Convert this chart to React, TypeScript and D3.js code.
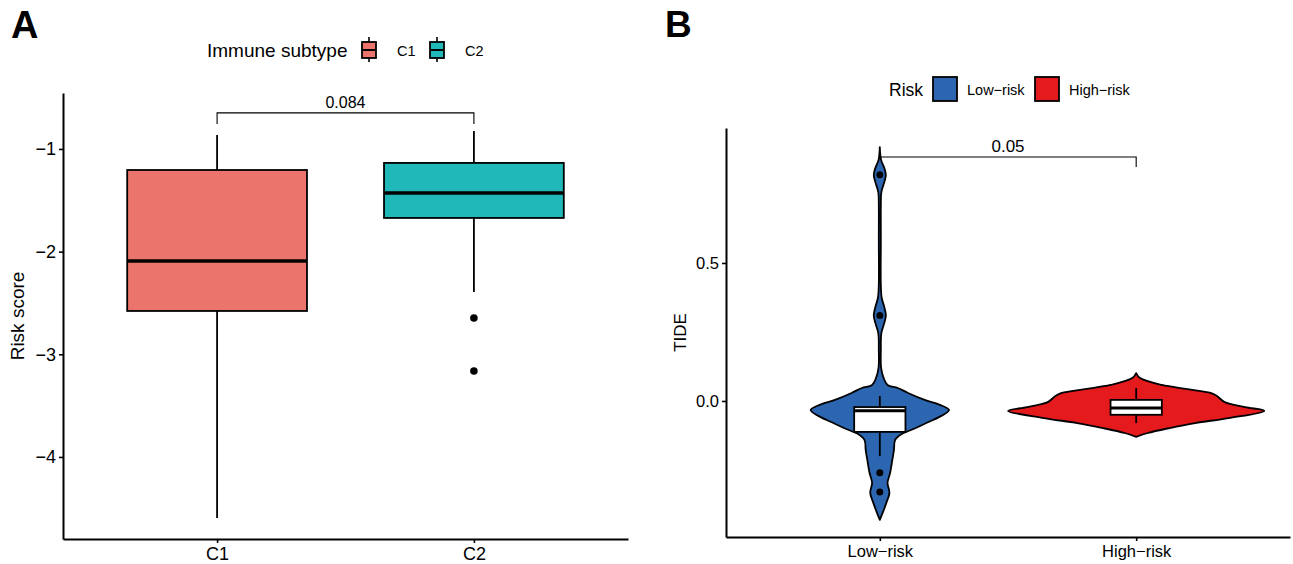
import { useEffect, useRef } from 'react';
import * as d3 from 'd3';

const WIDTH = 1293;
const HEIGHT = 564;
const FONT_FAMILY = '"Liberation Sans", Arial, Helvetica, sans-serif';

// Panel A: risk score by immune subtype (boxplot stats)
const SUBTYPES = ['C1', 'C2'];
const SUBTYPE_COLORS = ['#EB756C', '#20B8B8'];
const BOX_LOW = [-4.594, -2.393];
const BOX_Q1 = [-2.578, -1.672];
const BOX_MEDIAN = [-2.091, -1.429];
const BOX_Q3 = [-1.205, -1.136];
const BOX_HIGH = [-0.864, -0.825];
const C2_OUTLIERS = [-2.646, -3.162];
const RISK_TICKS = [-4, -3, -2, -1];
const RISK_DOMAIN = [-4.799, -0.455];
const P_A = '0.084';
const P_A_LEVEL = -0.649;

// Panel B: TIDE by risk group (violin density profiles, relative scale)
const RISK_GROUPS = ['Low-risk', 'High-risk'];
const RISK_COLORS = ['#2C66B0', '#E41A1C'];
const LOW_DENS_Y = [
  0.92, 0.873, 0.844, 0.819, 0.793, 0.757, 0.71, 0.583, 0.42, 0.373, 0.34, 0.31, 0.283,
  0.246, 0.185, 0.12, 0.083, 0.058, 0.047, 0.029, 0.004, -0.014, -0.033, -0.054, -0.076,
  -0.098, -0.12, -0.141, -0.178, -0.221, -0.261, -0.297, -0.333, -0.37, -0.402, -0.431,
];
const LOW_DENS = [
  0, 0.01, 0.035, 0.047, 0.035, 0.012, 0.008, 0.008, 0.008, 0.015, 0.035, 0.047, 0.035,
  0.012, 0.008, 0.01, 0.03, 0.06, 0.14, 0.22, 0.35, 0.47, 0.54, 0.48, 0.38,
  0.28, 0.17, 0.12, 0.11, 0.095, 0.08, 0.06, 0.075, 0.05, 0.025, 0,
];
const HIGH_DENS_Y = [
  0.101, 0.083, 0.058, 0.043, 0.029, 0.018, -0.004, -0.022, -0.036, -0.062, -0.08, -0.098,
  -0.116, -0.13,
];
const HIGH_DENS = [0, 0.03, 0.2, 0.4, 0.58, 0.63, 0.69, 0.85, 1, 0.72, 0.46, 0.26, 0.09, 0];
// [lower whisker, q1, median, q3, upper whisker]
const TIDE_LOW_BOX = [-0.2, -0.112, -0.035, -0.022, 0.018];
const TIDE_HIGH_BOX = [-0.08, -0.05, -0.025, 0.004, 0.047];
const LOW_OUTLIERS = [0.82, 0.31, -0.26, -0.33];
const TIDE_TICKS = [0, 0.5];
const TIDE_DOMAIN = [-0.4928, 0.989];
const P_B = '0.05';
const P_B_LEVEL = 0.884;

const LINE = 1.8;

export default function App() {
  const svgRef = useRef<SVGSVGElement>(null);

  useEffect(() => {
    const svg = d3.select(svgRef.current);
    svg.selectAll('*').remove();
    svg.style('font-family', FONT_FAMILY);

    // ---------------------------------------------------------------- Panel A
    const xA = d3.scaleLinear().domain([0.4, 2.6]).range([63, 628]);
    const yA = d3.scaleLinear().domain(RISK_DOMAIN).range([539, 93]);
    const gA = svg.append('g');

    SUBTYPES.forEach((name, i) => {
      const cx = xA(i + 1);
      const half = xA(1.35) - xA(1);
      // whiskers
      gA.append('line')
        .attr('x1', cx).attr('x2', cx)
        .attr('y1', yA(BOX_HIGH[i])).attr('y2', yA(BOX_Q3[i]))
        .attr('stroke', '#000').attr('stroke-width', LINE);
      gA.append('line')
        .attr('x1', cx).attr('x2', cx)
        .attr('y1', yA(BOX_Q1[i])).attr('y2', yA(BOX_LOW[i]))
        .attr('stroke', '#000').attr('stroke-width', LINE);
      gA.append('rect')
        .attr('x', cx - half).attr('width', half * 2)
        .attr('y', yA(BOX_Q3[i])).attr('height', yA(BOX_Q1[i]) - yA(BOX_Q3[i]))
        .attr('fill', SUBTYPE_COLORS[i]).attr('stroke', '#000').attr('stroke-width', LINE);
      gA.append('line')
        .attr('x1', cx - half).attr('x2', cx + half)
        .attr('y1', yA(BOX_MEDIAN[i])).attr('y2', yA(BOX_MEDIAN[i]))
        .attr('stroke', '#000').attr('stroke-width', 3.6);
    });

    gA.selectAll('circle.out')
      .data(C2_OUTLIERS)
      .join('circle')
      .attr('cx', xA(2)).attr('cy', (d) => yA(d)).attr('r', 3.8).attr('fill', '#000');

    // axes
    const axA = gA.append('g').attr('transform', `translate(63,0)`)
      .call(d3.axisLeft(yA).tickValues(RISK_TICKS).tickFormat(d3.format('d')).tickSize(4).tickSizeOuter(0));
    const axAx = gA.append('g').attr('transform', `translate(0,539)`)
      .call(d3.axisBottom(xA).tickValues([1, 2]).tickFormat((d) => SUBTYPES[+d - 1]).tickSize(4).tickSizeOuter(0));
    [axA, axAx].forEach((ax) => {
      ax.select('.domain').attr('stroke-width', 2);
      ax.selectAll('.tick line').attr('stroke-width', 1.6);
      ax.selectAll('text').style('font-size', '18px').style('font-family', FONT_FAMILY).attr('fill', '#000');
    });
    axA.selectAll('text').attr('x', -7);
    axAx.selectAll('text').attr('y', 8);

    gA.append('text')
      .attr('transform', `translate(24,${yA((RISK_DOMAIN[0] + RISK_DOMAIN[1]) / 2)}) rotate(-90)`)
      .attr('text-anchor', 'middle')
      .style('font-size', '19px')
      .text('Risk score');

    // p-value bracket
    const tipA = 11;
    gA.append('path')
      .attr('d', `M${xA(1)},${yA(P_A_LEVEL) + tipA}V${yA(P_A_LEVEL)}H${xA(2)}V${yA(P_A_LEVEL) + tipA}`)
      .attr('fill', 'none').attr('stroke', '#000').attr('stroke-width', 1.1);
    gA.append('text')
      .attr('x', (xA(1) + xA(2)) / 2).attr('y', yA(P_A_LEVEL) - 5)
      .attr('text-anchor', 'middle').style('font-size', '16px').text(P_A);

    // legend A
    const legA = gA.append('g').attr('transform', 'translate(207,57)');
    legA.append('text').style('font-size', '19px').text('Immune subtype');
    const keyXA = [162, 230];
    SUBTYPES.forEach((name, i) => {
      const k = legA.append('g').attr('transform', `translate(${keyXA[i]},-7)`);
      k.append('line').attr('x1', 0).attr('x2', 0).attr('y1', -13).attr('y2', 12)
        .attr('stroke', '#000').attr('stroke-width', 1.6);
      k.append('rect').attr('x', -7).attr('y', -8).attr('width', 14).attr('height', 16)
        .attr('fill', SUBTYPE_COLORS[i]).attr('stroke', '#000').attr('stroke-width', 1.8);
      k.append('line').attr('x1', -7).attr('x2', 7).attr('y1', 0).attr('y2', 0)
        .attr('stroke', '#000').attr('stroke-width', 2);
      legA.append('text').attr('x', keyXA[i] + 28).attr('y', -1)
        .style('font-size', '14.5px').text(name);
    });

    svg.append('text').attr('x', 11).attr('y', 38)
      .style('font-size', '38px').style('font-weight', 'bold').text('A');

    // ---------------------------------------------------------------- Panel B
    const xB = d3.scaleLinear().domain([0.4, 2.6]).range([726, 1290]);
    const yB = d3.scaleLinear().domain(TIDE_DOMAIN).range([537, 128]);
    const wB = d3.scaleLinear().domain([0, 1]).range([0, xB(1.5) - xB(1)]);
    const gB = svg.append('g');

    // bracket drawn first so violin covers it
    const tipB = 10;
    gB.append('path')
      .attr('d', `M${xB(1)},${yB(P_B_LEVEL) + tipB}V${yB(P_B_LEVEL)}H${xB(2)}V${yB(P_B_LEVEL) + tipB}`)
      .attr('fill', 'none').attr('stroke', '#000').attr('stroke-width', 1.1);
    gB.append('text')
      .attr('x', (xB(1) + xB(2)) / 2).attr('y', yB(P_B_LEVEL) - 5)
      .attr('text-anchor', 'middle').style('font-size', '17px').text(P_B);

    const profiles = [
      LOW_DENS_Y.map((v, j) => ({ v, d: LOW_DENS[j] })),
      HIGH_DENS_Y.map((v, j) => ({ v, d: HIGH_DENS[j] })),
    ];
    const boxes = [TIDE_LOW_BOX, TIDE_HIGH_BOX];

    RISK_GROUPS.forEach((name, i) => {
      const cx = xB(i + 1);
      const area = d3.area<{ v: number; d: number }>()
        .y((p) => yB(p.v))
        .x0((p) => cx - wB(p.d))
        .x1((p) => cx + wB(p.d))
        .curve(d3.curveCatmullRom.alpha(0.5));
      gB.append('path')
        .attr('d', area(profiles[i]))
        .attr('fill', RISK_COLORS[i]).attr('stroke', '#000').attr('stroke-width', LINE)
        .attr('stroke-linejoin', 'round');

      const b = boxes[i];
      const half = xB(1.1) - xB(1);
      gB.append('line').attr('x1', cx).attr('x2', cx)
        .attr('y1', yB(b[4])).attr('y2', yB(b[0]))
        .attr('stroke', '#000').attr('stroke-width', LINE);
      gB.append('rect')
        .attr('x', cx - half).attr('width', half * 2)
        .attr('y', yB(b[3])).attr('height', yB(b[1]) - yB(b[3]))
        .attr('fill', '#fff').attr('stroke', '#000').attr('stroke-width', LINE);
      gB.append('line')
        .attr('x1', cx - half).attr('x2', cx + half)
        .attr('y1', yB(b[2])).attr('y2', yB(b[2]))
        .attr('stroke', '#000').attr('stroke-width', 3);
    });

    gB.selectAll('circle.out')
      .data(LOW_OUTLIERS)
      .join('circle')
      .attr('cx', xB(1)).attr('cy', (d) => yB(d)).attr('r', 3.5).attr('fill', '#000');

    const axB = gB.append('g').attr('transform', `translate(726,0)`)
      .call(d3.axisLeft(yB).tickValues(TIDE_TICKS).tickFormat(d3.format('.1f')).tickSize(4).tickSizeOuter(0));
    const axBx = gB.append('g').attr('transform', `translate(0,537)`)
      .call(d3.axisBottom(xB).tickValues([1, 2]).tickFormat((d) => RISK_GROUPS[+d - 1].replace('-', '\u2212')).tickSize(4).tickSizeOuter(0));
    [axB, axBx].forEach((ax) => {
      ax.select('.domain').attr('stroke-width', 2);
      ax.selectAll('.tick line').attr('stroke-width', 1.6);
      ax.selectAll('text').style('font-size', '16.5px').style('font-family', FONT_FAMILY).attr('fill', '#000');
    });
    axB.selectAll('text').attr('x', -7);
    axBx.selectAll('text').attr('y', 8);

    gB.append('text')
      .attr('transform', `translate(686,${yB((TIDE_DOMAIN[0] + TIDE_DOMAIN[1]) / 2)}) rotate(-90)`)
      .attr('text-anchor', 'middle')
      .style('font-size', '17px')
      .text('TIDE');

    // legend B
    const legB = gB.append('g').attr('transform', 'translate(889,96)');
    legB.append('text').style('font-size', '17.5px').text('Risk');
    const keyXB = [44, 146];
    RISK_GROUPS.forEach((name, i) => {
      legB.append('rect').attr('x', keyXB[i]).attr('y', -19).attr('width', 24).attr('height', 24)
        .attr('fill', RISK_COLORS[i]).attr('stroke', '#000').attr('stroke-width', 1.8);
      legB.append('text').attr('x', keyXB[i] + 34).attr('y', -1)
        .style('font-size', '14.5px').text(name.replace('-', '\u2212'));
    });

    svg.append('text').attr('x', 665).attr('y', 37)
      .style('font-size', '37px').style('font-weight', 'bold').text('B');
  }, []);

  return (
    <svg
      ref={svgRef}
      width={WIDTH}
      height={HEIGHT}
      style={{ position: 'absolute', left: 0, top: 0, background: '#fff' }}
    />
  );
}
